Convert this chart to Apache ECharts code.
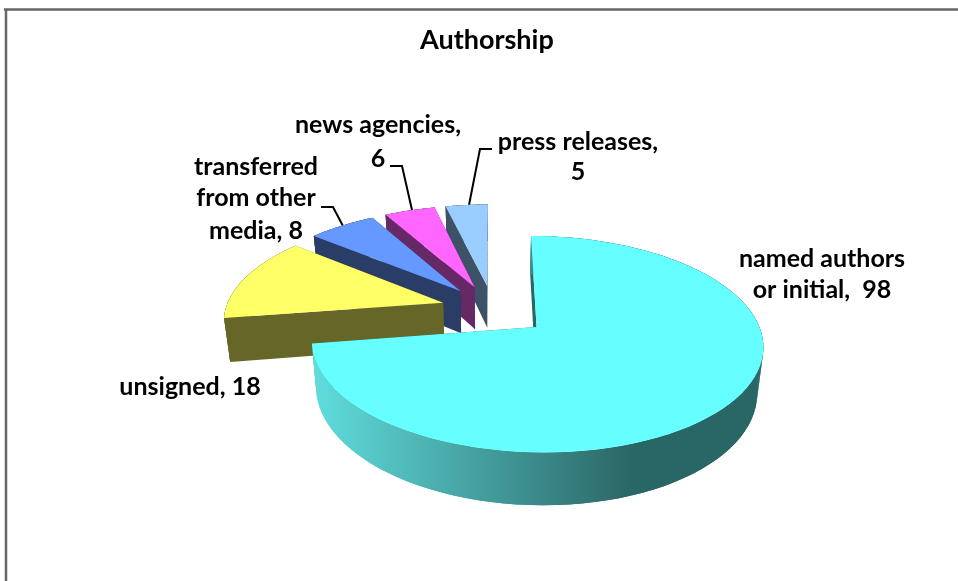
<!DOCTYPE html>
<html>
<head>
<meta charset="utf-8">
<style>
  html, body { margin: 0; padding: 0; background: #fff; }
  #chart { width: 958px; height: 581px; }
</style>
<script src="https://cdn.jsdelivr.net/npm/echarts@6/dist/echarts.min.js"></script>
</head>
<body>
<div id="chart"></div>
<script>
// Data
const categories = ['named authors or initial', 'unsigned', 'transferred from other media', 'news agencies', 'press releases'];
const values = [98, 18, 8, 6, 5];
const total = values.reduce((a, b) => a + b, 0);

// Slice colours: top face, side face
const topColors = ['#66FFFF', '#FFFF66', '#6699FF', '#FF66FF', '#99CCFF'];
const sideColors = ['#296666', '#666629', '#293D66', '#662966', '#3D5266'];

// Fake 3D view of the disc
const view = { cx: 496, cy: 311, fx: 217.5, fy: 100.5, persp: 0.154, explode: 0.24, depth: 43.5, shrink: 0.977, restDx: -3, restDy: -2 };

function project(x, y, down, big) {
    const d = 1 + view.persp * y;
    const sx = view.fx * x / d;
    return [
        view.cx + (down ? sx * view.shrink : sx) + (big ? 0 : view.restDx),
        view.cy - view.fy * y / d + (down ? view.depth / d : 0) + (big ? 0 : view.restDy)
    ];
}

function renderSlice(params, api) {
    const i = params.dataIndex;
    const big = i === 0;
    const before = values.slice(0, i).reduce((a, b) => a + b, 0);
    const a0 = before / total * Math.PI * 2;
    const a1 = (before + api.value(0)) / total * Math.PI * 2;
    const mid = (a0 + a1) / 2;
    const ox = view.explode * Math.sin(mid);
    const oy = view.explode * Math.cos(mid);

    const rim = [];
    const steps = 90;
    for (let s = 0; s <= steps; s++) {
        const a = a0 + (a1 - a0) * s / steps;
        rim.push([ox + Math.sin(a), oy + Math.cos(a)]);
    }
    const first = rim[0];
    const last = rim[steps];

    const upper = rim.map(p => project(p[0], p[1], false, big));
    const lower = rim.map(p => project(p[0], p[1], true, big));
    const topFace = [project(ox, oy, false, big)].concat(upper);
    const wall = upper.concat(lower.slice().reverse());
    const cut = p => [
        project(ox, oy, false, big), project(p[0], p[1], false, big),
        project(p[0], p[1], true, big), project(ox, oy, true, big)
    ];

    let wallFill = sideColors[i];
    if (big) {
        const xs = wall.map(p => p[0]);
        wallFill = {
            type: 'linear', global: true,
            x: Math.max.apply(null, xs), y: 0, x2: Math.min.apply(null, xs), y2: 0,
            colorStops: [
                { offset: 0, color: '#296666' },
                { offset: 0.28, color: '#296666' },
                { offset: 0.34, color: '#2F6E6E' },
                { offset: 1, color: '#60DDDD' }
            ]
        };
    }

    const base = (values.length - i) * 10;
    const poly = (points, fill, z) => ({
        type: 'polygon',
        z2: base + z,
        shape: { points: points },
        style: { fill: fill }
    });

    // quads fill the silhouette gap at the far sides, the polygon hides their seams
    const quads = [];
    for (let s = 0; s < steps; s++) {
        quads.push(poly([upper[s], upper[s + 1], lower[s + 1], lower[s]], wallFill, 1));
    }

    return {
        type: 'group',
        children: [
            poly(cut(first), sideColors[i], 0),
            poly(cut(last), sideColors[i], 0)
        ].concat(quads, [
            poly(wall, wallFill, 1),
            poly(topFace, topColors[i], 2)
        ])
    };
}

const labelFont = { fontFamily: 'Lato', fontSize: 25, fontWeight: 'bold', fill: '#000', textAlign: 'center', textVerticalAlign: 'middle' };

function label(x, y, text) {
    return { type: 'text', x: x, y: y, silent: true, style: Object.assign({ text: text }, labelFont) };
}

function leader(points) {
    return { type: 'polyline', silent: true, shape: { points: points }, style: { stroke: '#000', lineWidth: 2, fill: null } };
}

function frameLine(x1, y1, x2, y2) {
    return { type: 'line', silent: true, shape: { x1: x1, y1: y1, x2: x2, y2: y2 }, style: { stroke: '#666', lineWidth: 2.5 } };
}

let chart = echarts.init(document.getElementById('chart'), null, { renderer: 'canvas' });

chart.setOption({
    animation: false,
    backgroundColor: '#fff',
    title: {
        text: 'Authorship',
        left: 415,
        top: 22,
        textStyle: { fontFamily: 'Lato', fontSize: 27, fontWeight: 'bold', color: '#000' }
    },
    series: [{
        type: 'custom',
        coordinateSystem: 'none',
        renderItem: renderSlice,
        data: values.map((v, i) => ({ name: categories[i], value: [v] }))
    }],
    graphic: [
        frameLine(4, 9.5, 958, 9.5),
        frameLine(6, 9, 6, 581),
        label(822, 259, 'named authors'),
        label(822, 290, 'or initial,  ' + values[0]),
        label(190, 387, 'unsigned, ' + values[1]),
        label(256, 167, 'transferred'),
        label(256, 198, 'from other'),
        label(256, 231, 'media, ' + values[2]),
        label(378, 125, 'news agencies,'),
        label(378, 159, values[3] + ''),
        label(578, 142, 'press releases,'),
        label(578, 172, values[4] + ''),
        leader([[321, 207], [333, 207], [343, 226]]),
        leader([[390, 166], [402, 166], [412, 210]]),
        leader([[492, 149], [480, 149], [469, 205]])
    ]
});
</script>
</body>
</html>
